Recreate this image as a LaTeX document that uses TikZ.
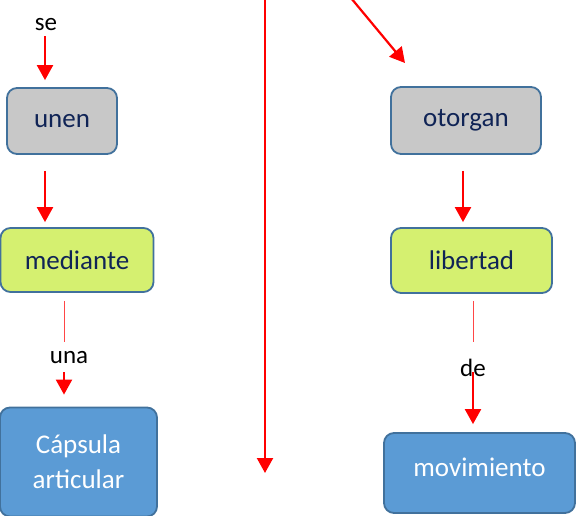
\documentclass[tikz,border=0pt]{standalone}
\usepackage{fontspec}
\setmainfont{Carlito}
\usetikzlibrary{arrows.meta}
\definecolor{navytxt}{RGB}{16,36,86}
\definecolor{bordblue}{RGB}{65,113,156}
\definecolor{boxgray}{RGB}{200,200,200}
\definecolor{boxgreen}{RGB}{213,240,112}
\definecolor{boxblue}{RGB}{91,155,213}
\definecolor{redline}{RGB}{255,0,0}
\definecolor{thinred}{RGB}{255,70,70}
\tikzset{
  box/.style={draw=bordblue, line width=1.8pt, rounded corners=10pt, inner sep=0pt,
    font=\fontsize{27}{35}\selectfont, align=center},
  graybox/.style={box, fill=boxgray, text=navytxt},
  greenbox/.style={box, fill=boxgreen, text=navytxt},
  bluebox/.style={box, fill=boxblue, text=white},
  lbl/.style={inner sep=0pt, font=\fontsize{25}{28}\selectfont, text=black},
  arr/.style={draw=redline, line width=2.2pt, -{Triangle[width=16pt,length=15pt]}},
  thinln/.style={draw=thinred, line width=1pt},
}
\begin{document}
\begin{tikzpicture}[x=1pt,y=-1pt]
\useasboundingbox (0,0) rectangle (581,515);
% column coordinates
\coordinate (cL1) at (45,0);
\coordinate (cL2) at (64,0);
\coordinate (cR1) at (463,0);
\coordinate (cR2) at (473,0);
% boxes
\node[graybox, minimum width=110pt, minimum height=66pt] (unen) at (62,121) {unen};
\node[greenbox, minimum width=153pt, minimum height=64pt] (mediante) at (77,260) {mediante};
\node[bluebox, minimum width=157pt, minimum height=109pt] (capsula) at (78.5,462) {Cápsula\\articular};
\node[graybox, minimum width=150pt, minimum height=67pt] (otorgan) at (466,120.5) {otorgan};
\node[greenbox, minimum width=161pt, minimum height=65pt] (libertad) at (471.5,260.5) {libertad};
\node[bluebox, minimum width=191pt, minimum height=80pt,
      label={[text=white, font=\fontsize{27}{35}\selectfont, yshift=6pt]center:movimiento}] (movimiento) at (479.5,473) {};
% labels
\node[lbl] (se) at (46,25) {se};
\node[lbl] (una) at (69,358) {una};
\node[lbl] (de) at (473,368) {de};
% left column connectors
\draw[arr, shorten <=5pt, shorten >=7pt] (se.south -| cL1) -- (unen.north -| cL1);
\draw[arr, shorten <=16pt, shorten >=5pt] (unen.south -| cL1) -- (mediante.north -| cL1);
\draw[thinln, shorten <=8pt, shorten >=10pt] (mediante.south -| cL2) -- (una.north -| cL2);
\draw[arr, shorten <=8pt, shorten >=12pt] (una.south -| cL2) -- (capsula.north -| cL2);
% middle lines
\coordinate (m1) at (265,-2);
\coordinate (m2) at (265,473);
\draw[arr] (m1) -- (m2);
\coordinate (d1) at (351,-2);
\coordinate (d2) at (405,63);
\draw[arr] (d1) -- (d2);
% right column connectors
\draw[arr, shorten <=16pt, shorten >=5pt] (otorgan.south -| cR1) -- (libertad.north -| cR1);
\draw[thinln, shorten <=7pt, shorten >=17pt] (libertad.south -| cR2) -- (de.north -| cR2);
\draw[arr, shorten <=4pt, shorten >=8pt] (de.center -| cR2) -- (movimiento.north -| cR2);
\end{tikzpicture}
\end{document}
